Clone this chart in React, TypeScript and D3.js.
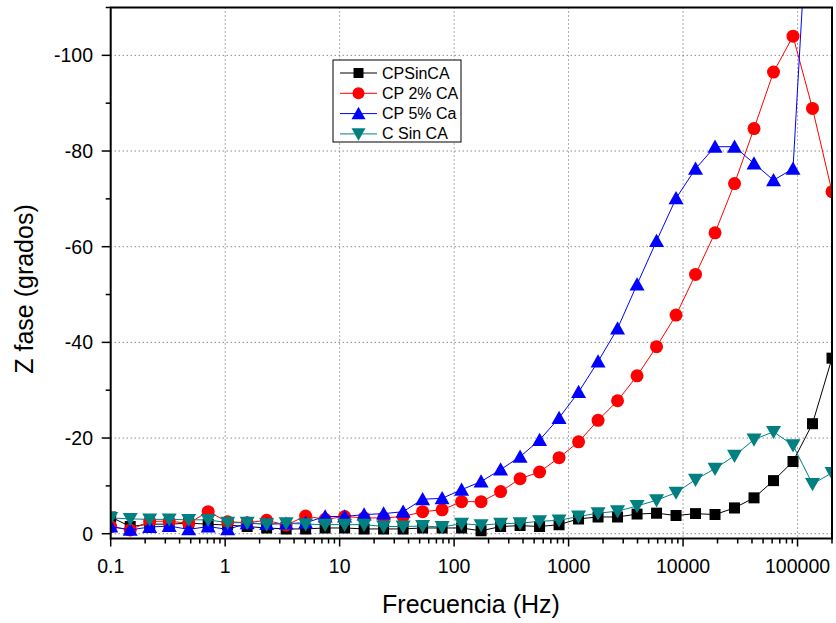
import React from "react";
import * as d3 from "d3";

// Frequencies (Hz)
const freqs = [
  0.1, 0.1481, 0.2191, 0.3243, 0.48, 0.7102, 1.0514, 1.556, 2.303, 3.409,
  5.046, 7.468, 11.05, 16.36, 24.22, 35.85, 53.06, 78.54, 116.2, 172.0,
  254.7, 376.9, 557.9, 825.7, 1222, 1809, 2677, 3963, 5866, 8682,
  12850, 19020, 28150, 41670, 61680, 91290, 135100, 200000,
];

const cpSinCA = [
  -3.5, -1.5, -2.0, -2.0, -2.2, -2.0, -1.8, -1.5, -1.2, -1.0,
  -1.0, -1.2, -1.2, -1.0, -1.0, -1.0, -1.2, -1.2, -1.2, -0.6,
  -1.5, -1.7, -1.5, -1.9, -3.1, -3.5, -3.5, -4.1, -4.3, -3.8,
  -4.2, -4.0, -5.4, -7.5, -11.1, -15.1, -23.0, -36.7,
];

const cp2CA = [
  -1.5, -0.8, -2.6, -2.6, -2.2, -4.6, -2.5, -2.3, -2.8, -1.8,
  -3.7, -3.0, -3.6, -3.3, -3.3, -3.6, -4.6, -5.0, -6.7, -6.7,
  -8.8, -11.5, -12.9, -15.9, -19.2, -23.7, -27.8, -33.0, -39.1, -45.7,
  -54.2, -62.9, -73.2, -84.7, -96.5, -104.0, -88.9, -71.5,
];

const cp5Ca = [
  -1.5, -0.8, -1.4, -1.6, -0.9, -1.5, -0.9, -2.2, -2.0, -2.1,
  -2.3, -3.6, -3.6, -4.0, -4.2, -4.6, -7.2, -7.4, -9.2, -10.9,
  -13.4, -16.1, -19.6, -24.2, -29.6, -36.0, -42.9, -52.1, -61.2, -70.1,
  -76.3, -80.9, -80.9, -77.4, -73.9, -76.3, -148.0, -150.0,
];

const cSinCA = [
  -3.3, -3.1, -3.0, -3.0, -2.9, -2.9, -2.3, -2.3, -2.0, -2.2,
  -2.0, -1.9, -1.9, -1.9, -1.5, -1.5, -1.6, -1.4, -2.1, -1.8,
  -2.1, -2.2, -2.6, -2.8, -3.6, -4.3, -4.7, -5.8, -7.0, -8.6,
  -11.3, -13.6, -16.3, -19.7, -21.3, -18.5, -10.4, -12.7,
];

const xTickValues = [0.1, 1, 10, 100, 1000, 10000, 100000];
const xTickLabels = ["0.1", "1", "10", "100", "1000", "10000", "100000"];
const yTickValues = [0, -20, -40, -60, -80, -100];
const yTickLabels = ["0", "-20", "-40", "-60", "-80", "-100"];
const yMinorValues = [-10, -30, -50, -70, -90, -110];

const seriesNames = ["CPSinCA", "CP 2% CA", "CP 5% Ca", "C Sin CA"];
const seriesValues = [cpSinCA, cp2CA, cp5Ca, cSinCA];
const seriesColors = ["#000000", "#FF0000", "#0000FF", "#008080"];
const seriesShapes = ["square", "circle", "triangleUp", "triangleDown"];

const W = 836;
const H = 623;
const L = 110.7;
const R = 832;
const T = 7.5;
const B = 538.5;
const FONT = "'Liberation Sans', Arial, Helvetica, sans-serif";

function markerPath(shape: string, size: number): string {
  const s = size / 2;
  if (shape === "square") return `M${-s},${-s}H${s}V${s}H${-s}Z`;
  if (shape === "circle")
    return `M${s},0A${s},${s} 0 1,1 ${-s},0A${s},${s} 0 1,1 ${s},0Z`;
  const h = size * 0.88;
  if (shape === "triangleUp")
    return `M0,${-h * 0.55}L${s},${h * 0.45}L${-s},${h * 0.45}Z`;
  return `M0,${h * 0.55}L${s},${-h * 0.45}L${-s},${-h * 0.45}Z`;
}

const markerSizes: Record<string, number> = {
  square: 11,
  circle: 13,
  triangleUp: 15,
  triangleDown: 15,
};

export default function App() {
  const x = d3.scaleLog().domain([0.1, 200000]).range([L, R]);
  const y = d3.scaleLinear().domain([1, -110]).range([B, T]);

  const minorX: number[] = [];
  for (let e = -1; e <= 5; e++) {
    for (let m = 2; m <= 9; m++) {
      const v = m * Math.pow(10, e);
      if (v <= 200000) minorX.push(v);
    }
  }

  const line = d3
    .line<[number, number]>()
    .x((d) => x(d[0]))
    .y((d) => y(d[1]));

  return (
    <svg
      width={W}
      height={H}
      style={{ position: "absolute", left: 0, top: 0, background: "#fff" }}
      fontFamily={FONT}
    >
      <defs>
        <clipPath id="plotClip">
          <rect x={L} y={T} width={R - L} height={B - T} />
        </clipPath>
      </defs>
      <rect x={0} y={0} width={W} height={H} fill="#fff" />

      {/* grid */}
      <g stroke="#555" strokeWidth={1} strokeDasharray="1 3">
        {xTickValues.slice(1).map((v, i) => (
          <line key={"gx" + i} x1={x(v)} x2={x(v)} y1={T} y2={B} />
        ))}
        {yTickValues.map((v, i) => (
          <line key={"gy" + i} x1={L} x2={R} y1={y(v)} y2={y(v)} />
        ))}
      </g>

      {/* data */}
      <g clipPath="url(#plotClip)">
        {seriesValues.map((vals, si) => {
          const pts: [number, number][] = freqs.map((f, i) => [f, vals[i]]);
          const shape = seriesShapes[si];
          const d = markerPath(shape, markerSizes[shape]);
          return (
            <g key={"s" + si}>
              <path
                d={line(pts) || ""}
                fill="none"
                stroke={seriesColors[si]}
                strokeWidth={1}
              />
              {pts.map((p, i) => (
                <path
                  key={i}
                  d={d}
                  transform={`translate(${x(p[0])},${y(p[1])})`}
                  fill={seriesColors[si]}
                />
              ))}
            </g>
          );
        })}
      </g>

      {/* frame */}
      <rect
        x={L}
        y={T}
        width={R - L}
        height={B - T}
        fill="none"
        stroke="#000"
        strokeWidth={2}
      />

      {/* x ticks */}
      <g stroke="#000" strokeWidth={1.5}>
        {xTickValues.map((v, i) => (
          <line key={"xt" + i} x1={x(v)} x2={x(v)} y1={B} y2={B + 8} />
        ))}
        {minorX.map((v, i) => (
          <line key={"xm" + i} x1={x(v)} x2={x(v)} y1={B} y2={B + 5} />
        ))}
        {yTickValues.map((v, i) => (
          <line key={"yt" + i} x1={L} x2={L - 9} y1={y(v)} y2={y(v)} />
        ))}
        {yMinorValues.map((v, i) => (
          <line key={"ym" + i} x1={L} x2={L - 5} y1={y(v)} y2={y(v)} />
        ))}
      </g>

      <g fontSize={19.5} fill="#000">
        {xTickValues.map((v, i) => (
          <text key={"xl" + i} x={x(v)} y={573} textAnchor="middle">
            {xTickLabels[i]}
          </text>
        ))}
        {yTickValues.map((v, i) => (
          <text
            key={"yl" + i}
            x={93}
            y={y(v)}
            textAnchor="end"
            dominantBaseline="central"
          >
            {yTickLabels[i]}
          </text>
        ))}
      </g>

      <text x={471} y={613} fontSize={25} textAnchor="middle" fill="#000">
        Frecuencia (Hz)
      </text>
      <text
        transform="translate(33,289) rotate(-90)"
        fontSize={25}
        textAnchor="middle"
        fill="#000"
      >
        Z fase (grados)
      </text>

      {/* legend */}
      <g>
        <rect
          x={333}
          y={60}
          width={128}
          height={82}
          fill="#fff"
          stroke="#000"
          strokeWidth={1}
        />
        {seriesNames.map((name, i) => {
          const cy = 73 + i * 20.3;
          const shape = seriesShapes[i];
          return (
            <g key={"lg" + i}>
              <line
                x1={340}
                x2={377}
                y1={cy}
                y2={cy}
                stroke={seriesColors[i]}
                strokeWidth={1}
              />
              <path
                d={markerPath(shape, markerSizes[shape] - 1)}
                transform={`translate(358.5,${cy})`}
                fill={seriesColors[i]}
              />
              <text
                x={382}
                y={cy}
                fontSize={16}
                dominantBaseline="central"
                fill="#000"
              >
                {name}
              </text>
            </g>
          );
        })}
      </g>
    </svg>
  );
}
